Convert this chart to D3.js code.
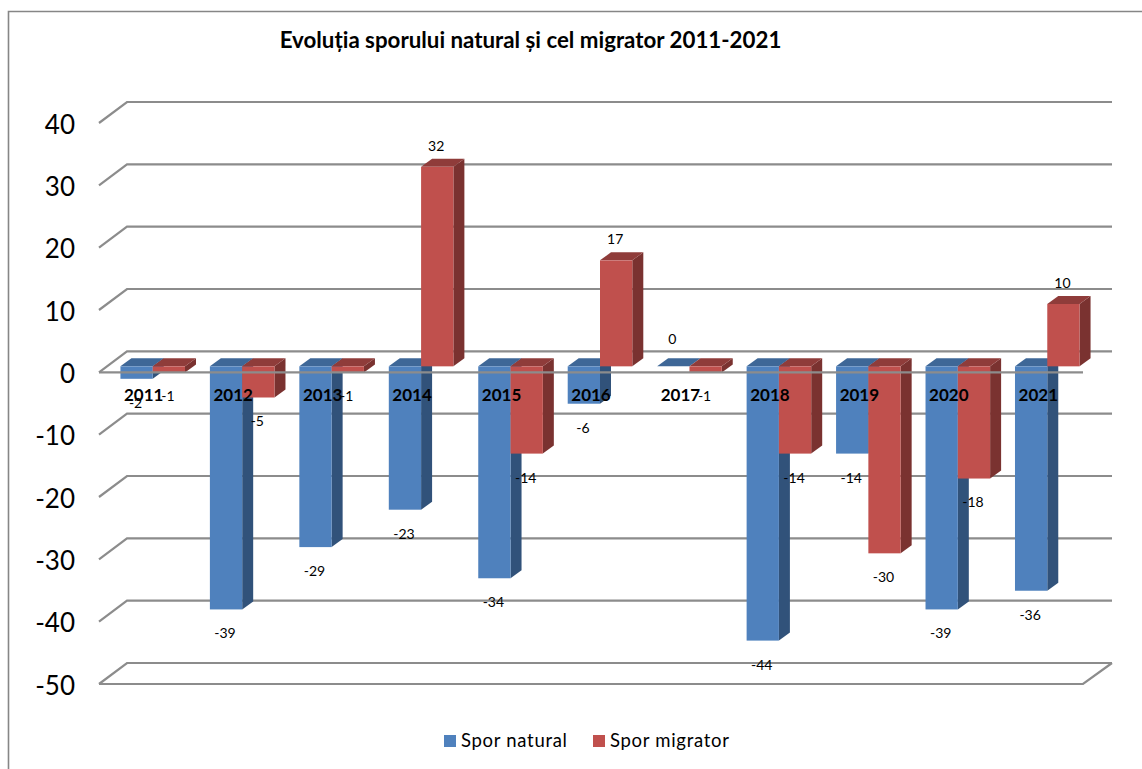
<!DOCTYPE html>
<html>
<head>
<meta charset="utf-8">
<title>Evoluția sporului</title>
<script src="https://cdn.jsdelivr.net/npm/d3@7"></script>
<style>
  html, body { margin: 0; padding: 0; background: #fff; }
  svg { display: block; }
  text { font-family: Lato, "Open Sans", sans-serif; fill: #000; }
</style>
</head>
<body>
<script>
// values
var years = ["2011","2012","2013","2014","2015","2016","2017","2018","2019","2020","2021"]
var sporNatural = [-2,-39,-29,-23,-34,-6,0,-44,-14,-39,-36]
var sporMigrator = [-1,-5,-1,32,-14,17,-1,-14,-30,-18,10]
var seriesNames = ["Spor natural","Spor migrator"]
var yTicks = [-50,-40,-30,-20,-10,0,10,20,30,40]

var width = 1142
var height = 769

var blue = {front: "#4f81bd", top: "#3e6797", side: "#31527a"}
var red = {front: "#c0504d", top: "#8f3c3a", side: "#7a3230"}
var gridColor = "#8c8c8c"

var svg = d3.select("body").append("svg")
            .attr("width", width)
            .attr("height", height)

// frame, only top and left show up in the picture
svg.append("path")
   .attr("d", "M8.5,769V11.5H1142")
   .attr("fill", "none")
   .attr("stroke", "#868686")
   .attr("stroke-width", 1.6)

svg.append("text")
   .attr("x", 530.5)
   .attr("y", 48)
   .attr("text-anchor", "middle")
   .attr("font-size", 22.3)
   .attr("font-weight", 700)
   .text("Evoluția sporului natural și cel migrator 2011-2021")

var x = d3.scaleBand().domain(years).range([99, 1083])
var y = d3.scaleLinear().domain([-50, 40]).range([684, 123])

// the floor/back wall sit behind the front plane
var backDx = 28
var backDy = -21
// bars stand a bit inside that depth
var barDx = 9
var barDy = -6
var sideDx = 11
var sideDy = -8

var inner = d3.scaleBand().domain([0, 1]).range([0, x.bandwidth() * 0.722]).paddingInner(0)
var groupOffset = (x.bandwidth() - inner.range()[1]) / 2

var grid = svg.append("g").attr("fill", "none").attr("stroke", gridColor).attr("stroke-width", 2.2)

grid.selectAll("path.g")
    .data(yTicks)
    .enter().append("path")
    .attr("class", "g")
    .attr("d", function(t) {
        return "M" + x.range()[0] + "," + y(t)
             + "L" + (x.range()[0] + backDx) + "," + (y(t) + backDy)
             + "H" + (x.range()[1] + backDx + 1)
    })

// floor front edge
grid.append("path")
    .attr("d", "M" + x.range()[0] + "," + y(-50) + "H" + x.range()[1]
             + "L" + (x.range()[1] + backDx + 1) + "," + (y(-50) + backDy))

function drawBar(g, x0, w, v, c) {
    var yTop = y(Math.max(v, 0)) + barDy
    var yBase = y(Math.min(v, 0)) + barDy
    // side
    g.append("path").attr("fill", c.side)
     .attr("d", "M" + (x0 + w) + "," + yTop + "l" + sideDx + "," + sideDy
              + "V" + (yBase + sideDy) + "l" + (-sideDx) + "," + (-sideDy) + "Z")
    // top
    g.append("path").attr("fill", c.top)
     .attr("d", "M" + x0 + "," + yTop + "l" + sideDx + "," + sideDy + "h" + w
              + "l" + (-sideDx) + "," + (-sideDy) + "Z")
    if (yBase > yTop) {
        g.append("rect").attr("fill", c.front)
         .attr("x", x0).attr("y", yTop)
         .attr("width", w).attr("height", yBase - yTop)
    }
}

var bars = svg.append("g")
years.forEach(function(yr, i) {
    var g = bars.append("g")
    var x0 = x(yr) + groupOffset + barDx
    drawBar(g, x0 + inner(0), inner.bandwidth(), sporNatural[i], blue)
    drawBar(g, x0 + inner(1), inner.bandwidth(), sporMigrator[i], red)
})

// zero line runs in front of the bars
svg.append("line")
   .attr("x1", x.range()[0]).attr("x2", x.range()[1])
   .attr("y1", y(0)).attr("y2", y(0))
   .attr("stroke", gridColor)
   .attr("stroke-width", 2.2)

// String keeps the plain hyphen of the source instead of d3's minus sign
var yAxis = d3.axisLeft(y).tickValues(yTicks).tickSize(0).tickPadding(0).tickFormat(String)
var yG = svg.append("g").attr("transform", "translate(75,2)").call(yAxis)
yG.select(".domain").remove()
yG.selectAll("text").attr("font-size", 26).attr("font-family", "Lato, sans-serif").attr("fill", "#000")

var xAxis = d3.axisBottom(x).tickSize(0).tickPadding(0)
var xG = svg.append("g").attr("transform", "translate(0,389)").call(xAxis)
xG.select(".domain").remove()
xG.selectAll("text").attr("font-size", 17).attr("font-weight", 700)
  .attr("font-family", "Lato, sans-serif").attr("fill", "#000")

function labelY(v) {
    if (v > 0) return y(v) + barDy - 21
    if (v === 0) return y(0) + barDy - 27
    return y(v) + barDy + 24
}

// data labels go on top of the axis labels, same as the source
var labels = svg.append("g").attr("font-size", 14).attr("text-anchor", "middle")
;[sporNatural, sporMigrator].forEach(function(vals, s) {
    labels.selectAll("text.s" + s)
          .data(vals)
          .enter().append("text")
          .attr("class", "s" + s)
          .attr("x", function(d, i) { return x(years[i]) + groupOffset + barDx - 1 + inner(s) + inner.bandwidth() / 2 })
          .attr("y", function(d) { return labelY(d) })
          .attr("dy", "0.35em")
          .text(function(d) { return d })
})

// legend
var legendX = [444, 593]
var legend = svg.append("g")
seriesNames.forEach(function(name, i) {
    legend.append("rect")
          .attr("x", legendX[i]).attr("y", 735)
          .attr("width", 12).attr("height", 12)
          .attr("fill", i == 0 ? blue.front : red.front)
    legend.append("text")
          .attr("x", legendX[i] + 17).attr("y", 747)
          .attr("font-size", 18.5)
          .attr("letter-spacing", 0.7)
          .text(name)
})
</script>
</body>
</html>
